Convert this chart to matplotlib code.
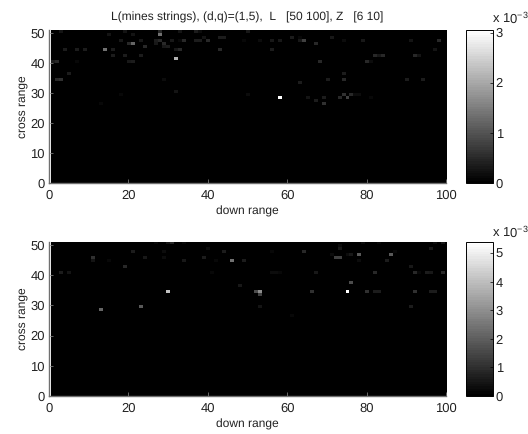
import numpy as np
import matplotlib
matplotlib.use("Agg")
import matplotlib.pyplot as plt

plt.rcParams['font.family'] = ['Liberation Sans', 'DejaVu Sans']
plt.rcParams['mathtext.default'] = 'regular'
plt.rcParams['text.hinting'] = 'none'
plt.rcParams['text.hinting_factor'] = 1

W, H = 528, 434
n_cols, n_rows = 100, 51

# picos de cada panel (x 10^-3)
top_peak = 3.05
bot_peak = 5.4

# celdas encendidas: columna, fila, brillo relativo al pico
top_cols = [3, 19, 28, 33, 37, 38, 50,
            15, 21, 28,
            39, 43, 44, 61, 71, 63,
            18, 23, 27, 28, 31, 33, 34, 37, 38, 40, 49, 53, 56, 58, 63, 64, 74, 79, 91, 98,
            20, 21, 27, 29, 67,
            24, 29, 30,
            4, 7, 9, 14, 16, 32, 33, 43, 56, 97,
            16, 19, 23, 82, 83, 84, 92, 93,
            32,
            1, 2, 7, 20, 21, 68, 80, 81,
            5, 74,
            2, 3, 29, 70, 74, 90, 94,
            63,
            32,
            18, 50, 74, 76, 77, 78,
            58, 65, 69, 73, 75, 81,
            67,
            13, 69]
top_rows = [51]*7 + [50]*3 + [49]*6 + [48]*20 + [47]*5 + [46]*3 + [45]*10 + [43]*8 + [42] \
    + [41]*8 + [37]*2 + [35]*7 + [34] + [31] + [30]*6 + [29]*6 + [28] + [27]*2
top_vals = [.08, .08, .16, .08, .12, .06, .1,
            .08, .08, .45,
            .08, .12, .12, .12, .1, .04,
            .1, .1, .12, .16, .1, .04, .16, .12, .12, .16, .04, .05, .1, .1, .1, .25, .05, .1, .08, .16,
            .16, .4, .1, .16, .16,
            .16, .1, .12,
            .12, .12, .12, .45, .12, .1, .16, .16, .12, .08,
            .12, .12, .12, .16, .1, .16, .16, .08,
            .7,
            .12, .16, .04, .1, .12, .16, .16, .06,
            .12, .12,
            .16, .2, .06, .12, .16, .12, .12,
            .12,
            .08,
            .04, .06, .2, .16, .06, .05,
            1, .08, .12, .16, .25, .04,
            .12,
            .04, .2]

bot_cols = [27, 30, 31, 34, 79, 83, 97, 99,
            73,
            40, 73, 96,
            21, 29, 44, 56, 64, 87,
            71, 75, 76, 78, 86,
            11, 24, 29, 39, 72, 73,
            11, 15, 34, 42, 46, 49, 78, 85,
            19, 91,
            3, 5, 41, 56, 57, 58, 67, 82, 92, 93, 95, 96, 99,
            76,
            48,
            30, 52, 53, 66, 75, 80, 82, 83, 92, 96, 97,
            53,
            23, 53, 91,
            13,
            61]
bot_rows = [51]*8 + [50] + [49]*3 + [48]*6 + [47]*5 + [46]*6 + [45]*8 + [43]*2 + [41]*13 \
    + [38] + [37] + [35]*11 + [34] + [30]*3 + [29] + [27]
bot_vals = [.04, .08, .16, .04, .06, .04, .05, .1,
            .06,
            .05, .1, .1,
            .12, .05, .12, .04, .16, .04,
            .05, .05, .1, .35, .35,
            .2, .1, .05, .12, .25, .25,
            .08, .04, .1, .04, .45, .12, .06, .12,
            .16, .1,
            .12, .08, .04, .05, .05, .04, .1, .16, .16, .04, .12, .1, .16,
            .3,
            .1,
            .75, .3, .55, .2, 1, .2, .12, .12, .2, .12, .12,
            .25,
            .35, .08, .12,
            .4,
            .04]

x_ticks = [0, 20, 40, 60, 80, 100]
y_ticks = [0, 10, 20, 30, 40, 50]
top_cb_ticks = [0, 1, 2, 3]
bot_cb_ticks = [0, 1, 2, 3, 4, 5]
title = "L(mines strings), (d,q)=(1,5),  L   [50 100], Z   [6 10]"


def px_axes(fig, left, right, top, bottom):
    return fig.add_axes([left / W, 1 - bottom / H, (right - left) / W, (bottom - top) / H])


def panel(fig, cols, rows, vals, peak, cb_ticks, top, bottom, cb_label_y):
    grid = np.zeros((n_rows, n_cols))
    for c, r, v in zip(cols, rows, vals):
        grid[r - 1, c - 1] = v * peak

    ax = px_axes(fig, 49, 446, top, bottom)
    cmap = plt.get_cmap('gray', 64)
    im = ax.imshow(grid, origin='lower', cmap=cmap, vmin=0, vmax=peak, aspect='auto',
                   interpolation='nearest', extent=[0.5, 100.5, 0, 51])
    ax.set_xlim(0, 100)
    ax.set_ylim(0, 51)
    ax.set_xticks(x_ticks)
    ax.set_yticks(y_ticks)
    ax.tick_params(direction='in', length=3, width=0.5, labelsize=9, color='#909090', labelcolor='#222222')
    ax.tick_params(axis='x', pad=5)
    ax.tick_params(axis='y', pad=3)
    ax.set_xlabel("down range", fontsize=8.8, labelpad=2.5, color='#222222')
    ax.set_ylabel("cross range", fontsize=8.8, labelpad=2, color='#222222')
    ax.spines['top'].set_visible(False)
    ax.spines['right'].set_visible(False)
    for s in ['left', 'bottom']:
        ax.spines[s].set_linewidth(1.0)
        ax.spines[s].set_color('#707070')

    cax = px_axes(fig, 466, 493, top, bottom)
    cb = fig.colorbar(im, cax=cax)
    cb.set_ticks(cb_ticks)
    cb.ax.tick_params(direction='in', length=2, width=0.5, labelsize=9, pad=2, labelcolor='#222222')
    cb.outline.set_linewidth(0.7)
    fig.text(492 / W, 1 - cb_label_y / H, "x 10$^{-3}$", fontsize=9, va='baseline', color='#222222')
    return ax


fig = plt.figure(figsize=(W / 100, H / 100), dpi=100)
ax1 = panel(fig, top_cols, top_rows, top_vals, top_peak, top_cb_ticks, 30, 183, 23)
ax1.set_title(title, fontsize=8.5, pad=7, x=0.5, color='#222222')
panel(fig, bot_cols, bot_rows, bot_vals, bot_peak, bot_cb_ticks, 242, 396, 237)

fig.savefig("out.png", dpi=100)
